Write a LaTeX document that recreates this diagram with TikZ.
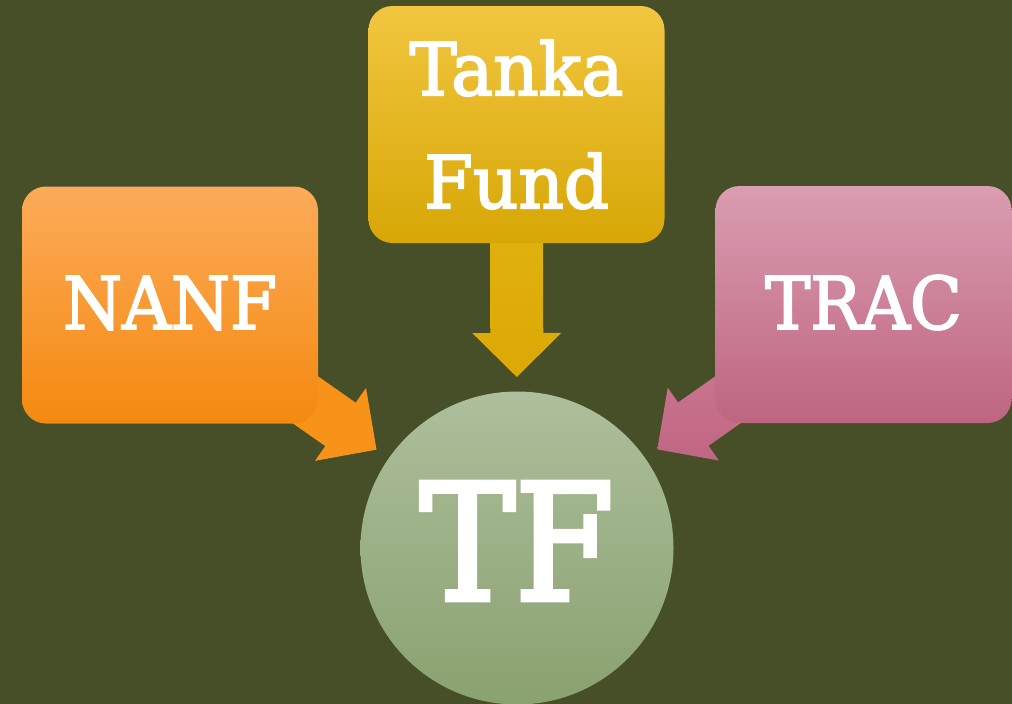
\documentclass[tikz,border=0pt]{standalone}
\usepackage{fontspec}
\setmainfont{DejaVu Serif}[FakeStretch=0.93, FakeBold=2.5]
\newfontfamily\tankafont{DejaVu Serif}[FakeStretch=0.97, FakeBold=2.5]
\newfontfamily\tffont{DejaVu Serif}[FakeStretch=0.88, FakeBold=3]
\usetikzlibrary{calc}
\definecolor{bgc}{HTML}{464F28}
\definecolor{nanfTop}{HTML}{FCAB5A}
\definecolor{nanfMid}{HTML}{FA9627}
\definecolor{nanfBot}{HTML}{F4890F}
\definecolor{tankaTop}{HTML}{F2C640}
\definecolor{tankaBot}{HTML}{D7A706}
\definecolor{tracTop}{HTML}{DA9DB1}
\definecolor{tracBot}{HTML}{BE6580}
\definecolor{tfTop}{HTML}{ADBF9C}
\definecolor{tfBot}{HTML}{8AA170}
\definecolor{nanfArr}{HTML}{F8931A}
\definecolor{tankaArrTop}{HTML}{E4B615}
\definecolor{tankaArrBot}{HTML}{DBA906}
\definecolor{tracArrTop}{HTML}{D2829E}
\definecolor{tracArrBot}{HTML}{C06682}
\pgfdeclarelayer{bglayer}
\pgfdeclarelayer{arrowlayer}
\pgfsetlayers{bglayer,arrowlayer,main}
\newcommand\fatarrow[3]{%
  \coordinate (#2-b) at ($(#2)!44pt!(#1)$);
  \path[#3] ($(#1)!26.5pt!90:(#2)$) -- ($(#2-b)!26.5pt!90:(#2)$)
    -- ($(#2-b)!44.5pt!90:(#2)$) -- (#2)
    -- ($(#2-b)!44.5pt!-90:(#2)$) -- ($(#2-b)!26.5pt!-90:(#2)$)
    -- ($(#1)!26.5pt!-90:(#2)$) -- cycle;}
\begin{document}
\begin{tikzpicture}[x=1pt,y=-1pt,
  box/.style={rounded corners=24pt, inner sep=0pt, text=white,
    minimum width=296pt, minimum height=237pt},
  big/.style={font=\fontsize{72.7}{113}\selectfont},
]
\begin{pgfonlayer}{bglayer}
\fill[bgc] (0,0) rectangle (1012,704);
\end{pgfonlayer}
\useasboundingbox (0,0) rectangle (1012,704);

\node[box, big, top color=nanfTop, middle color=nanfMid, bottom color=nanfBot,
  text depth=5pt] (nanf) at (170,305) {NANF};
\node[box, font=\tankafont\fontsize{72.7}{113}\selectfont, align=center,
  top color=tankaTop, bottom color=tankaBot]
  (tanka) at (516.5,124.5) {Tanka\\Fund};
\node[box, big, top color=tracTop, bottom color=tracBot, text depth=5pt]
  (trac) at (863.5,304.5) {TRAC};
\node[circle, inner sep=0pt, minimum size=313pt, text=white,
  top color=tfTop, bottom color=tfBot, text depth=14pt,
  font=\tffont\fontsize{162}{170}\selectfont] (tf) at (517,548) {TF};

\coordinate (tipN) at ($(tf.center)!171.5pt!(nanf.center)$);
\coordinate (tipK) at ($(tf.center)!171pt!(tanka.center)$);
\coordinate (tipT) at ($(tf.center)!171.5pt!(trac.center)$);

\begin{pgfonlayer}{arrowlayer}
\fatarrow{nanf.center}{tipN}{fill=nanfArr}
\fatarrow{tanka.center}{tipK}{top color=tankaArrTop, bottom color=tankaArrBot}
\fatarrow{trac.center}{tipT}{top color=tracArrTop, bottom color=tracArrBot}
\end{pgfonlayer}
\end{tikzpicture}
\end{document}
